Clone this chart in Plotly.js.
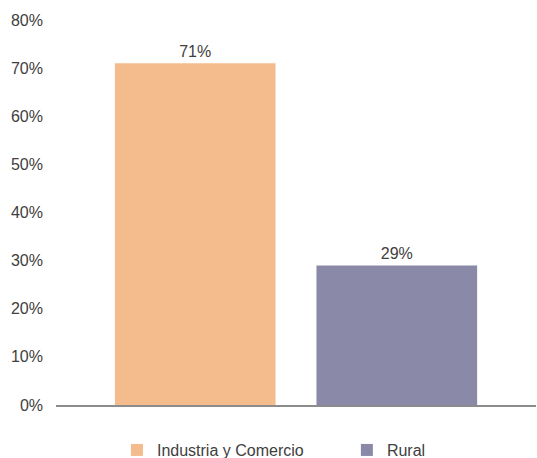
<!DOCTYPE html>
<html>
<head>
<meta charset="utf-8">
<script src="https://cdn.plot.ly/plotly-3.0.1.min.js"></script>
<style>html,body{margin:0;padding:0;background:#fff;}#chart{width:537px;height:458px;}</style>
</head>
<body>
<div id="chart"></div>
<script>
const category = [""];
const seriesNames = ["Industria y Comercio", "Rural"];
const seriesValues = [[0.71], [0.29]];
const seriesColors = ["#F4BC8C", "#8A8AA8"];
const yTickVals = [0, 0.1, 0.2, 0.3, 0.4, 0.5, 0.6, 0.7, 0.8];
const legendIds = ["legend", "legend2"];

const traces = seriesNames.map((name, i) => ({
  type: "bar",
  name: name,
  x: category,
  y: seriesValues[i],
  legend: legendIds[i],
  marker: {color: seriesColors[i]},
  text: seriesValues[i].map(v => Math.round(v * 100) + "%"),
  textposition: "outside",
  textfont: {family: "Liberation Sans, Arial, sans-serif", size: 16, color: "#404040"},
  cliponaxis: false,
  hoverinfo: "skip"
}));

const legendCommon = {orientation: "h", xanchor: "left", y: -0.117, yanchor: "middle",
  font: {size: 16, color: "#404040"}, itemwidth: 30, bgcolor: "rgba(0,0,0,0)"};

const layout = {
  width: 537, height: 458,
  margin: {l: 56, r: 1, t: 20, b: 53, autoexpand: false},
  paper_bgcolor: "#fff", plot_bgcolor: "#fff",
  font: {family: "Liberation Sans, Arial, sans-serif", size: 16, color: "#404040"},
  barmode: "group",
  bargap: 0.16,
  bargroupgap: 0.203,
  showlegend: true,
  legend: Object.assign({}, legendCommon, {x: 0.127}),
  legend2: Object.assign({}, legendCommon, {x: 0.606}),
  xaxis: {showline: true, linecolor: "#8c8c8c", linewidth: 1.5, showticklabels: false,
          showgrid: false, zeroline: false, ticks: ""},
  yaxis: {range: [0, 0.8], tickvals: yTickVals, tickformat: ".0%", showgrid: false,
          zeroline: false, showline: false, ticks: "", ticklabelstandoff: 12,
          tickfont: {size: 16, color: "#404040"}}
};

Plotly.newPlot("chart", traces, layout, {staticPlot: true, displayModeBar: false});
</script>
</body>
</html>
